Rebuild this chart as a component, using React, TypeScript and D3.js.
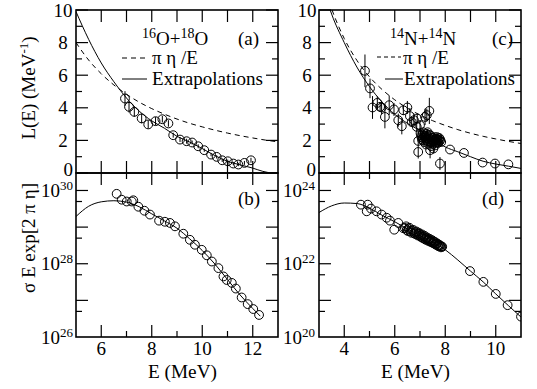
import * as d3 from "d3";

const FONT = "Liberation Serif, DejaVu Serif, Times New Roman, Times, serif";

// 16O+18O  L(E) [E (MeV), L (MeV^-1), error]
const oxyL: number[][] = [
  [6.94, 4.57, 0.45], [7.1, 4.06, 0.35], [7.31, 3.75, 0.3], [7.6, 3.35, 0.3], [7.86, 2.98, 0.25],
  [8.15, 3.18, 0.25], [8.42, 3.3, 0.2], [8.66, 3.04, 0.2], [8.85, 2.32, 0.15], [9.12, 2.05, 0.15],
  [9.38, 1.95, 0.15], [9.6, 1.87, 0.12], [9.84, 1.64, 0.12], [10.08, 1.4, 0.1], [10.35, 1.13, 0.1],
  [10.57, 0.99, 0.1], [10.79, 0.78, 0.1], [11.01, 0.72, 0.1], [11.23, 0.58, 0.1], [11.43, 0.52, 0.1],
  [11.67, 0.62, 0.12], [11.93, 0.78, 0.15],
];
const oxyPiEta: number[][] = [
  [5, 8.0], [5.5, 6.93], [6, 6.09], [6.5, 5.4], [7, 4.83], [7.5, 4.35], [8, 3.95], [8.5, 3.61],
  [9, 3.31], [9.5, 3.05], [10, 2.83], [10.5, 2.63], [11, 2.45], [11.5, 2.29], [12, 2.15], [12.5, 2.02], [13, 1.91],
];
const oxyExtrapL: number[][] = [
  [5, 9.9], [5.5, 8.2], [6, 6.75], [6.5, 5.6], [7, 4.6], [7.5, 3.8], [8, 3.2], [8.5, 2.75], [9, 2.25],
  [9.5, 1.9], [10, 1.5], [10.5, 1.07], [11, 0.72], [11.5, 0.5], [12, 0.3], [12.4, 0.1], [12.7, 0],
];
// 16O+18O  sigma E exp[2 pi eta]
const oxyS: number[][] = [
  [6.61, 8.1e29], [6.81, 5.6e29], [7.01, 5.0e29], [7.21, 5.0e29], [7.27, 5.4e29], [7.47, 3.6e29],
  [7.71, 2.8e29], [7.93, 2.2e29], [8.29, 1.5e29], [8.52, 1.4e29], [8.72, 1.3e29], [8.92, 1.05e29],
  [9.25, 6.6e28], [9.51, 4.5e28], [9.71, 3.3e28], [9.98, 2.4e28], [10.18, 1.7e28], [10.38, 1.15e28],
  [10.64, 7.6e27], [10.84, 4.5e27], [10.97, 3.6e27], [11.17, 3.0e27], [11.33, 2.1e27], [11.56, 1.2e27],
  [11.8, 7.9e26], [12.02, 5.8e26], [12.25, 4.0e26],
];
const oxyExtrapS: number[][] = [
  [5, 1.95e29], [5.5, 3.7e29], [6, 4.9e29], [6.5, 5.25e29], [7, 4.8e29], [7.5, 3.6e29], [8, 2.3e29],
  [8.5, 1.48e29], [9, 9.3e28], [9.5, 4.8e28], [10, 2.3e28], [10.5, 9.8e27], [11, 3.7e27], [11.5, 1.4e27],
  [12, 6.0e26], [12.3, 3.7e26],
];

// 14N+14N  L(E) [E, L, error]
const nitL: number[][] = [
  [4.82, 6.27, 1.0], [5.02, 5.19, 0.6], [5.12, 4.02, 0.7], [5.31, 4.3, 0.4], [5.42, 4.06, 0.3],
  [5.48, 4.02, 0.4], [5.61, 3.44, 0.7], [5.78, 4.16, 0.6], [5.97, 3.9, 0.4], [6.14, 3.24, 0.4],
  [6.28, 2.87, 0.5], [6.34, 3.85, 0.3], [6.5, 4.02, 0.4], [6.6, 3.49, 0.5], [6.67, 3.13, 0.3],
  [6.76, 3.24, 0.4], [6.87, 2.83, 0.3], [6.89, 3.34, 0.3], [7.0, 2.93, 0.3], [7.2, 3.44, 0.5],
  [7.27, 3.55, 0.4], [7.37, 3.81, 0.8], [6.93, 1.97, 0.3], [6.93, 1.29, 0.4], [7.4, 1.4, 0.5],
  [7.53, 1.5, 0.3], [7.79, 0.58, 0.4],
  [7.02, 2.45, 0.2], [7.06, 2.2, 0.2], [7.1, 2.35, 0.2], [7.14, 2.0, 0.2], [7.18, 2.25, 0.2],
  [7.22, 2.1, 0.2], [7.24, 1.75, 0.2], [7.26, 2.4, 0.2], [7.3, 1.95, 0.2], [7.34, 2.2, 0.2],
  [7.38, 2.05, 0.2], [7.42, 2.3, 0.2], [7.44, 1.65, 0.2], [7.46, 1.85, 0.2], [7.5, 2.15, 0.2],
  [7.54, 1.95, 0.2], [7.58, 2.2, 0.2], [7.6, 1.7, 0.2], [7.62, 1.9, 0.2], [7.66, 2.1, 0.2],
  [7.7, 2.0, 0.2], [7.74, 2.05, 0.2], [7.78, 1.95, 0.2],
  [7.04, 2.3, 0.2], [7.08, 2.05, 0.2], [7.12, 2.15, 0.2], [7.16, 1.9, 0.2], [7.2, 2.3, 0.2],
  [7.28, 2.15, 0.2], [7.32, 1.8, 0.2], [7.36, 2.35, 0.2], [7.4, 1.9, 0.2], [7.48, 2.0, 0.2],
  [7.52, 1.8, 0.2], [7.56, 2.05, 0.2], [7.64, 1.85, 0.2], [7.68, 2.2, 0.2], [7.72, 1.85, 0.2],
  [7.76, 2.15, 0.2], [7.8, 2.05, 0.2], [7.84, 1.9, 0.2], [7.12, 2.5, 0.2], [7.3, 2.5, 0.2],
  [8.19, 1.44, 0], [8.74, 1.23, 0], [9.48, 0.64, 0], [9.97, 0.58, 0], [10.5, 0.53, 0],
];
const nitPiEta: number[][] = [
  [3.4, 10.53], [3.5, 10.08], [4, 8.25], [4.5, 6.91], [5, 5.9], [5.5, 5.12], [6, 4.49], [6.5, 3.98],
  [7, 3.56], [7.5, 3.21], [8, 2.92], [8.5, 2.66], [9, 2.44], [9.5, 2.25], [10, 2.09], [10.5, 1.94], [11, 1.81],
];
const nitExtrapL: number[][] = [
  [3.42, 10.1], [3.5, 9.75], [4, 8.0], [4.5, 6.5], [5, 5.3], [5.5, 4.35], [6, 3.6], [6.5, 3.05],
  [7, 2.6], [7.5, 2.1], [8, 1.6], [8.5, 1.3], [9, 1.0], [9.5, 0.72], [10, 0.55], [10.5, 0.42], [11, 0.28],
];
// 14N+14N  sigma E exp[2 pi eta]
const nitS: number[][] = [
  [4.66, 4.1e23], [4.89, 2.7e23], [4.93, 4.1e23], [5.06, 3.2e23], [5.28, 2.7e23], [5.48, 2.2e23],
  [5.68, 1.8e23], [5.81, 1.5e23], [5.98, 8.5e22], [6.14, 1.3e23], [6.34, 9.3e22],
  [6.4, 9.5e22], [6.48, 8.3e22], [6.55, 8.9e22], [6.62, 7.6e22], [6.7, 7.9e22], [6.76, 6.9e22],
  [6.82, 7.2e22], [6.88, 6.3e22], [6.94, 6.6e22], [7.0, 5.8e22], [7.05, 6.0e22], [7.1, 5.2e22],
  [7.15, 5.5e22], [7.2, 4.8e22], [7.25, 5.0e22], [7.3, 4.5e22], [7.35, 4.6e22], [7.4, 4.1e22],
  [7.45, 4.2e22], [7.5, 3.8e22], [7.55, 3.9e22], [7.6, 3.5e22], [7.65, 3.5e22], [7.7, 3.2e22],
  [7.75, 3.3e22], [7.8, 3.0e22], [7.85, 3.0e22],
  [6.45, 1.05e23], [6.52, 7.8e22], [6.58, 9.6e22], [6.66, 7.0e22], [6.73, 8.4e22], [6.8, 6.5e22],
  [6.86, 7.6e22], [6.92, 5.9e22], [6.97, 6.9e22], [7.03, 5.4e22], [7.08, 6.3e22], [7.13, 4.9e22],
  [7.18, 5.8e22], [7.23, 4.5e22], [7.28, 5.2e22], [7.33, 4.2e22], [7.38, 4.8e22], [7.43, 3.9e22],
  [7.48, 4.4e22], [7.53, 3.6e22], [7.58, 4.0e22], [7.63, 3.3e22], [7.68, 3.6e22], [7.73, 3.0e22],
  [7.78, 3.2e22], [7.83, 2.8e22], [7.88, 2.9e22],
  [8.98, 6.3e21], [9.51, 3.2e21], [10.0, 1.5e21], [10.47, 7.4e20], [11.0, 3.6e20],
];
const nitExtrapS: number[][] = [
  [3, 2.5e23], [3.5, 3.8e23], [4, 4.55e23], [4.5, 4.4e23], [5, 3.3e23], [5.5, 2.1e23], [6, 1.4e23],
  [6.5, 8.9e22], [7, 5.9e22], [7.5, 3.9e22], [8, 2.4e22], [8.5, 1.26e22], [9, 6.3e21], [9.5, 3.2e21],
  [10, 1.5e21], [10.5, 7.2e20], [11, 3.5e20],
];

const colL = [76, 278];
const colR = [319, 521];
const rowT = [10, 173];
const rowB = [173, 337];

const xO = d3.scaleLinear().domain([5, 13]).range(colL);
const xN = d3.scaleLinear().domain([3, 11]).range(colR);
const yL = d3.scaleLinear().domain([0, 10]).range([rowT[1], rowT[0]]);
const ySO = d3.scaleLog().domain([1e26, 3e30]).range([rowB[1], rowB[0]]);
const ySN = d3.scaleLog().domain([1e20, 3e24]).range([rowB[1], rowB[0]]);

const MAJ = 12;
const MIN = 6;

function Frame({ xs, ys, xMaj, xMin, yMaj, yMin }: any) {
  const [x0, x1] = xs;
  const [y0, y1] = ys;
  return (
    <g stroke="#000" fill="none" strokeWidth={1.2}>
      {xMaj.map((p: number, i: number) => (
        <g key={"xM" + i}>
          <line x1={p} x2={p} y1={y1} y2={y1 - MAJ} />
          <line x1={p} x2={p} y1={y0} y2={y0 + MAJ} />
        </g>
      ))}
      {xMin.map((p: number, i: number) => (
        <g key={"xm" + i}>
          <line x1={p} x2={p} y1={y1} y2={y1 - MIN} />
          <line x1={p} x2={p} y1={y0} y2={y0 + MIN} />
        </g>
      ))}
      {yMaj.map((p: number, i: number) => (
        <g key={"yM" + i}>
          <line x1={x0} x2={x0 + MAJ} y1={p} y2={p} />
          <line x1={x1} x2={x1 - MAJ} y1={p} y2={p} />
        </g>
      ))}
      {yMin.map((p: number, i: number) => (
        <g key={"ym" + i}>
          <line x1={x0} x2={x0 + MIN} y1={p} y2={p} />
          <line x1={x1} x2={x1 - MIN} y1={p} y2={p} />
        </g>
      ))}
      <rect x={x0} y={y0} width={x1 - x0} height={y1 - y0} strokeWidth={1.6} />
    </g>
  );
}

function Points({ data, x, y, err, clip }: any) {
  return (
    <g stroke="#000" fill="none" strokeWidth={1} clipPath={clip}>
      {data.map((d: number[], i: number) => (
        <g key={i}>
          {err && d[2] > 0 && (
            <line x1={x(d[0])} x2={x(d[0])} y1={y(d[1] - d[2])} y2={y(d[1] + d[2])} />
          )}
          <circle cx={x(d[0])} cy={y(d[1])} r={4.4} />
        </g>
      ))}
    </g>
  );
}

function curve(data: number[][], x: any, y: any) {
  return d3
    .line<number[]>()
    .x((d) => x(d[0]))
    .y((d) => y(d[1]))
    .curve(d3.curveMonotoneX)(data) as string;
}

function LogLabel({ x, y, exp }: any) {
  return (
    <text x={x} y={y + 6.5} textAnchor="end" fontSize={19} fontFamily={FONT}>
      10<tspan dy={-7} fontSize={13}>{exp}</tspan>
    </text>
  );
}

export default function App() {
  const topYMaj = [0, 2, 4, 6, 8, 10];
  const topYMin = [1, 3, 5, 7, 9];
  const oxyTopTicks = d3.range(6, 13).map(xO);
  const nitTopTicks = d3.range(4, 11).map(xN);
  const oxyBotMaj = [6, 8, 10, 12];
  const oxyBotMin = [7, 9, 11];
  const nitBotMaj = [4, 6, 8, 10];
  const nitBotMin = [5, 7, 9];
  const oxyDec = [27, 28, 29, 30];
  const nitDec = [21, 22, 23, 24];

  return (
    <svg
      width={537}
      height={389}
      fontFamily={FONT}
      style={{ position: "absolute", left: 0, top: 0, background: "#fff" }}
    >
      <defs>
        <clipPath id="cTL"><rect x={colL[0]} y={rowT[0]} width={colL[1] - colL[0]} height={rowT[1] - rowT[0]} /></clipPath>
        <clipPath id="cTR"><rect x={colR[0]} y={rowT[0]} width={colR[1] - colR[0]} height={rowT[1] - rowT[0]} /></clipPath>
        <clipPath id="cBL"><rect x={colL[0]} y={rowB[0]} width={colL[1] - colL[0]} height={rowB[1] - rowB[0]} /></clipPath>
        <clipPath id="cBR"><rect x={colR[0]} y={rowB[0]} width={colR[1] - colR[0]} height={rowB[1] - rowB[0]} /></clipPath>
      </defs>

      {/* curves */}
      <g fill="none" stroke="#000" strokeWidth={1}>
        <path d={curve(oxyPiEta, xO, yL)} strokeDasharray="5,4" clipPath="url(#cTL)" />
        <path d={curve(oxyExtrapL, xO, yL)} clipPath="url(#cTL)" />
        <path d={curve(oxyExtrapS, xO, ySO)} clipPath="url(#cBL)" />
        <path d={curve(nitPiEta, xN, yL)} strokeDasharray="5,4" clipPath="url(#cTR)" />
        <path d={curve(nitExtrapL, xN, yL)} clipPath="url(#cTR)" />
        <path d={curve(nitExtrapS, xN, ySN)} clipPath="url(#cBR)" />
      </g>

      <Points data={oxyL} x={xO} y={yL} err clip="url(#cTL)" />
      <Points data={nitL} x={xN} y={yL} err clip="url(#cTR)" />
      <Points data={oxyS} x={xO} y={ySO} clip="url(#cBL)" />
      <Points data={nitS} x={xN} y={ySN} clip="url(#cBR)" />

      {/* frames */}
      <Frame xs={colL} ys={rowT} xMaj={oxyTopTicks} xMin={[]} yMaj={topYMaj.map(yL)} yMin={topYMin.map(yL)} />
      <Frame xs={colR} ys={rowT} xMaj={nitTopTicks} xMin={[]} yMaj={topYMaj.map(yL)} yMin={topYMin.map(yL)} />
      <Frame
        xs={colL} ys={rowB}
        xMaj={oxyBotMaj.map(xO)} xMin={oxyBotMin.map(xO)}
        yMaj={oxyDec.map((e) => ySO(Math.pow(10, e)))}
        yMin={[26, 27, 28, 29].map((e) => ySO(5 * Math.pow(10, e)))}
      />
      <Frame
        xs={colR} ys={rowB}
        xMaj={nitBotMaj.map(xN)} xMin={nitBotMin.map(xN)}
        yMaj={nitDec.map((e) => ySN(Math.pow(10, e)))}
        yMin={[20, 21, 22, 23].map((e) => ySN(5 * Math.pow(10, e)))}
      />

      {/* tick labels */}
      <g fontSize={19} fill="#000" fontFamily={FONT}>
        {topYMaj.map((v) =>
          v === 0 ? (
            <g key={v}>
              <text x={colL[0] - 3} y={yL(v) + 3} textAnchor="end">{v}</text>
              <text x={colR[0] - 3} y={yL(v) + 3} textAnchor="end">{v}</text>
            </g>
          ) : (
            <g key={v}>
              <text x={colL[0] - 13} y={yL(v) + 6.5} textAnchor="middle">{v}</text>
              <text x={colR[0] - 12} y={yL(v) + 6.5} textAnchor="middle">{v}</text>
            </g>
          )
        )}
        {oxyBotMaj.map((v) => (
          <text key={"o" + v} x={xO(v)} y={355} textAnchor="middle">{v}</text>
        ))}
        {nitBotMaj.map((v) => (
          <text key={"n" + v} x={xN(v)} y={355} textAnchor="middle">{v}</text>
        ))}
        {[26, 28, 30].map((e) => (
          <LogLabel key={"lo" + e} x={colL[0] - 3} y={ySO(Math.pow(10, e))} exp={e} />
        ))}
        {[20, 22, 24].map((e) => (
          <LogLabel key={"ln" + e} x={colR[0] - 4} y={ySN(Math.pow(10, e))} exp={e} />
        ))}
      </g>

      {/* axis titles */}
      <g fontSize={19} fill="#000" fontFamily={FONT}>
        <text x={148} y={378} textLength={69} lengthAdjust="spacingAndGlyphs">E (MeV)</text>
        <text x={381} y={378} textLength={69} lengthAdjust="spacingAndGlyphs">E (MeV)</text>
        <text transform="translate(35,88) rotate(-90)" textAnchor="middle">
          L(E) (MeV<tspan dy={-7} fontSize={13}>-1</tspan><tspan dy={7}>)</tspan>
        </text>
        <text transform="translate(35,238) rotate(-90)" textAnchor="middle">σ E exp[2 π η]</text>
      </g>

      {/* panel annotations */}
      <g fontSize={19} fill="#000" fontFamily={FONT}>
        <text x={142} y={45}>
          <tspan fontSize={14} dy={-7}>16</tspan><tspan dy={7}>O+</tspan>
          <tspan fontSize={14} dy={-7}>18</tspan><tspan dy={7}>O</tspan>
        </text>
        <text x={238} y={45}>(a)</text>
        <text x={390} y={45}>
          <tspan fontSize={14} dy={-7}>14</tspan><tspan dy={7}>N+</tspan>
          <tspan fontSize={14} dy={-7}>14</tspan><tspan dy={7}>N</tspan>
        </text>
        <text x={492} y={45}>(c)</text>
        <text x={238} y={205}>(b)</text>
        <text x={482} y={205}>(d)</text>

        <line x1={122} x2={147} y1={58} y2={58} stroke="#000" strokeDasharray="5,4" />
        <text x={152} y={64} textLength={46} lengthAdjust="spacingAndGlyphs">π η /E</text>
        <line x1={122} x2={147} y1={79} y2={79} stroke="#000" />
        <text x={152} y={85} textLength={111} lengthAdjust="spacingAndGlyphs">Extrapolations</text>

        <line x1={377} x2={401} y1={57} y2={57} stroke="#000" strokeDasharray="4,3" />
        <text x={403} y={64} textLength={46} lengthAdjust="spacingAndGlyphs">π η /E</text>
        <line x1={385} x2={403} y1={79} y2={79} stroke="#000" />
        <text x={404} y={85} textLength={111} lengthAdjust="spacingAndGlyphs">Extrapolations</text>
      </g>
    </svg>
  );
}
